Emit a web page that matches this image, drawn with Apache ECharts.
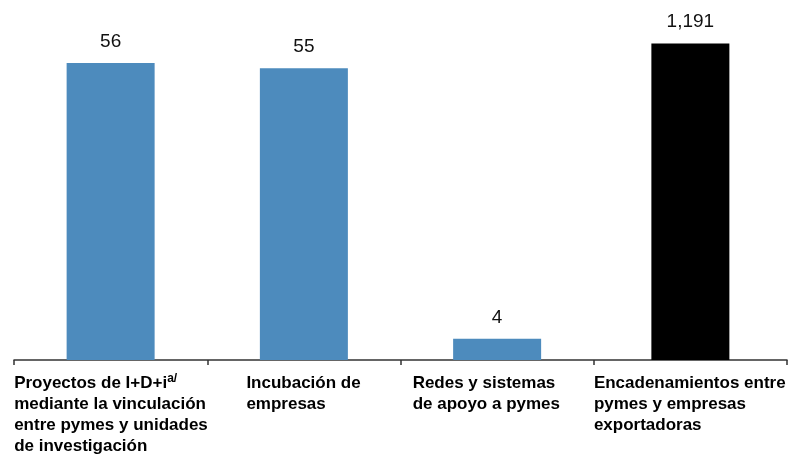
<!DOCTYPE html>
<html><head><meta charset="utf-8">
<script src="https://cdn.jsdelivr.net/npm/echarts@6/dist/echarts.min.js"></script>
<style>html,body{margin:0;padding:0;background:#fff}#c{width:789px;height:456px}</style>
</head><body><div id="c"></div>
<script>
const categories = [
  ["Proyectos de I+D+i{sup|a/}", "mediante la vinculación", "entre pymes y unidades", "de investigación"],
  ["Incubación de", "empresas"],
  ["Redes y sistemas", "de apoyo a pymes"],
  ["Encadenamientos entre", "pymes y empresas", "exportadoras"]
];
const programValues = [56, 55, 4, null];
const exportValues = [null, null, null, 1191];
const labelShift = [0, 39, 12, 0];

const FONT = '"Liberation Sans Narrow", "Liberation Sans", Arial, sans-serif';
const chart = echarts.init(document.getElementById('c'));
const catKeys = categories.map((c, i) => 'c' + i);
const rich = {
  t: { fontFamily: FONT, fontWeight: 'bold', fontSize: 17, color: '#000', lineHeight: 21, align: 'left' },
  sup: { fontFamily: FONT, fontWeight: 'bold', fontSize: 12, color: '#000', lineHeight: 21, verticalAlign: 'top', align: 'left', padding: [0,0,6,0] }
};
labelShift.forEach((s, i) => { rich['sp' + i] = { width: s, lineHeight: 21, align: 'left' }; });

const valueLabel = { show: true, position: 'top', distance: 12, fontFamily: FONT, fontSize: 19, color: '#111',
  formatter: p => p.value == null ? '' : p.value.toLocaleString('en-US') };

chart.setOption({
  animation: false,
  grid: { left: 14, right: 2, top: 20, bottom: 96, containLabel: false, outerBoundsMode: 'none' },
  xAxis: [{
    type: 'category',
    data: catKeys,
    axisLine: { lineStyle: { color: '#333', width: 1.5 } },
    axisTick: { show: true, length: 5, lineStyle: { color: '#333', width: 1.5 } },
    axisLabel: {
      interval: 0, margin: 13, align: 'center', width: 193, overflow: 'none',
      formatter: (v, idx) => categories[idx].map(line => {
        const txt = line.replace(/\{sup\|(.*?)\}/, '}{sup|$1}{t|');
        return '{sp' + idx + '|}{t|' + txt + '}';
      }).join('\n'),
      rich: rich
    }
  }, {
    type: 'category', data: catKeys, show: false
  }],
  yAxis: [
    { type: 'value', min: 0, max: 64.1, show: false, splitLine: { show: false } },
    { type: 'value', min: 0, max: 1279, show: false, splitLine: { show: false } }
  ],
  series: [
    { type: 'bar', xAxisIndex: 0, yAxisIndex: 0, data: programValues, barWidth: 88,
      itemStyle: { color: '#4d8bbd' }, label: valueLabel },
    { type: 'bar', xAxisIndex: 1, yAxisIndex: 1, data: exportValues, barWidth: 78,
      itemStyle: { color: '#000' }, label: valueLabel }
  ]
});
</script></body></html>
